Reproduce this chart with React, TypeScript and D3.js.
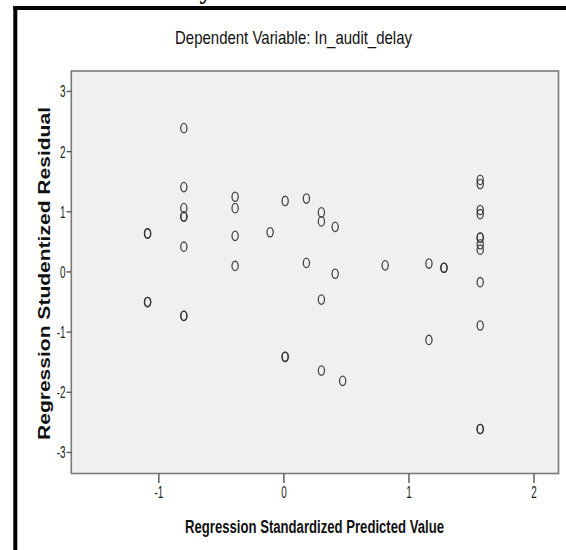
import React from "react";
import * as d3 from "d3";

const predicted: number[] = [
  -0.8, -0.8, -0.8, -0.8, -0.8, -0.8, -0.8, -0.8,
  -1.09, -1.09, -1.09, -1.09,
  -0.39, -0.39, -0.39, -0.39,
  -0.11,
  0.01, 0.01, 0.01,
  0.18, 0.18,
  0.3, 0.3, 0.3, 0.3,
  0.41, 0.41,
  0.47,
  0.81,
  1.16, 1.16,
  1.28, 1.28,
  1.57, 1.57, 1.57, 1.57, 1.57, 1.57, 1.57, 1.57, 1.57, 1.57, 1.57, 1.57,
];
const residual: number[] = [
  2.39, 1.41, 1.06, 0.92, 0.92, 0.42, -0.73, -0.73,
  0.64, 0.64, -0.5, -0.5,
  1.25, 1.06, 0.6, 0.1,
  0.66,
  1.18, -1.41, -1.41,
  1.22, 0.15,
  0.99, 0.84, -0.46, -1.64,
  0.75, -0.03,
  -1.81,
  0.11,
  0.14, -1.13,
  0.07, 0.07,
  1.53, 1.46, 1.03, 0.96, 0.57, 0.57, 0.46, 0.37, -0.17, -0.89, -2.61, -2.61,
];
const xTicks: number[] = [-1, 0, 1, 2];
const yTicks: number[] = [3, 2, 1, 0, -1, -2, -3];
const titleText = "Dependent Variable: In_audit_delay";
const xTitle = "Regression Standardized Predicted Value";
const yTitle = "Regression Studentized Residual";

export default function App() {
  const left = 71.3, right = 558.5, top = 71, bottom = 473.5;
  const x = d3.scaleLinear().domain([-1.7, 2.196]).range([left, right]);
  const y = d3.scaleLinear().domain([-3.35, 3.34]).range([bottom, top]);
  const sans = "'Liberation Sans', Arial, sans-serif";
  return (
    <svg
      width={566}
      height={550}
      style={{ position: "absolute", left: 0, top: 0, background: "#fff" }}
    >
      <rect x={0} y={0} width={566} height={550} fill="#fff" />
      <text x={206} y={-1} fontFamily="'Liberation Serif', serif" fontWeight="bold" fontSize={26} textAnchor="middle">y</text>
      {/* outer black frame */}
      <line x1={15.3} x2={15.3} y1={6} y2={550} stroke="#000" strokeWidth={4} />
      <line x1={13.3} x2={566} y1={8} y2={8} stroke="#000" strokeWidth={4} />
      {/* title */}
      <text x={175} y={43.5} fontFamily={sans} fontSize={19} textLength={237} lengthAdjust="spacingAndGlyphs" fill="#111">{titleText}</text>
      {/* plot area */}
      <rect x={left} y={top} width={right - left} height={bottom - top} fill="#f0f0f0" stroke="#7a7a7a" strokeWidth={1.6} />
      {/* x ticks */}
      {xTicks.map((t) => (
        <g key={"xt" + t}>
          <line x1={x(t)} x2={x(t)} y1={bottom} y2={483} stroke="#555" strokeWidth={1.4} />
          <text transform={`translate(${x(t)},498) scale(0.62,1)`} textAnchor="middle" fontFamily={sans} fontSize={16} fill="#1a1a1a">{String(t)}</text>
        </g>
      ))}
      {/* y ticks */}
      {yTicks.map((t) => (
        <g key={"yt" + t}>
          <line x1={66.5} x2={left} y1={y(t)} y2={y(t)} stroke="#555" strokeWidth={1.4} />
          <text transform={`translate(65.5,${y(t) + 6}) scale(0.62,1)`} textAnchor="end" fontFamily={sans} fontSize={16} fill="#1a1a1a">{String(t)}</text>
        </g>
      ))}
      {/* axis titles */}
      <text x={185} y={533.3} fontFamily={sans} fontWeight="bold" fontSize={17.5} textLength={259} lengthAdjust="spacingAndGlyphs" fill="#111">{xTitle}</text>
      <text transform="translate(50,440) rotate(-90)" fontFamily={sans} fontWeight="bold" fontSize={17} textLength={333} lengthAdjust="spacingAndGlyphs" fill="#111">{yTitle}</text>
      {/* points */}
      {predicted.map((p, i) => (
        <ellipse key={"pt" + i} cx={x(p)} cy={y(residual[i])} rx={3.1} ry={4.7} fill="none" stroke="#333" strokeOpacity={0.9} strokeWidth={1.3} />
      ))}
    </svg>
  );
}
